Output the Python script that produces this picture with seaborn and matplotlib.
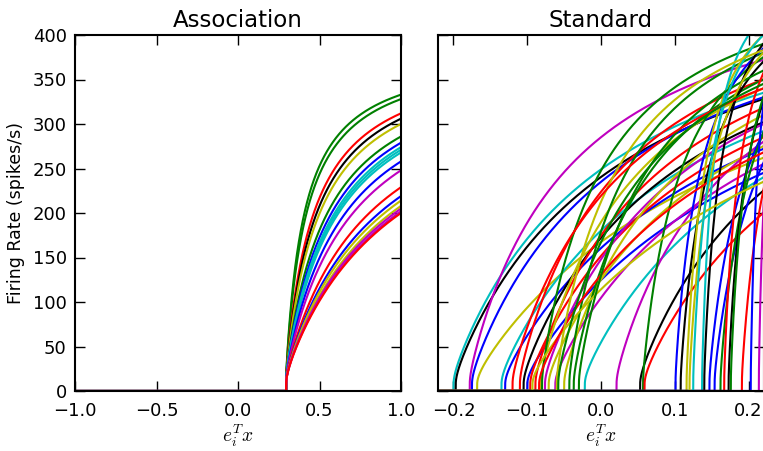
import numpy as np
import pandas as pd
import matplotlib
matplotlib.use("Agg")
import matplotlib.pyplot as plt
import seaborn as sns

# ---------------- data ----------------
# LIF neuron time constants (refractory period differs per panel)
tau_rc = 0.02
assoc_tau_ref = 0.0026
std_tau_ref = 0.002

# Association panel: all neurons share intercept ~0.3; rate reached at x = 1.0
assoc_intercept = 0.295
assoc_rates_at_1 = [333, 328, 312, 306, 300, 286, 279, 274, 271, 268,
                    258, 248, 229, 219, 214, 208, 205, 202, 200]
assoc_colors = ['g', 'g', 'r', 'k', 'y', 'g', 'b', 'c', 'c', 'c',
                'b', 'm', 'r', 'b', 'y', 'y', 'm', 'm', 'r']

# Standard panel: intercepts and rate reached at the right edge (x = 0.22)
std_intercepts = [-0.200, -0.197, -0.178, -0.175, -0.168, -0.135, -0.130,
                  -0.110, -0.105, -0.100, -0.096, -0.089, -0.082, -0.080,
                  -0.076, -0.071, -0.062, -0.050, -0.043, -0.037, -0.022,
                  0.021, 0.053, 0.057, 0.059, 0.101, 0.108, 0.116, 0.137,
                  0.140, 0.147, 0.154, 0.162, 0.167, 0.173, 0.176, 0.191,
                  0.203, 0.214, -0.093, -0.084, -0.030, 0.120, 0.125, -0.060,
                  -0.120, -0.058]
std_rates_at_edge = [335, 328, 372, 330, 262, 292, 272,
                     350, 302, 245, 285, 318, 340, 390,
                     300, 275, 255, 310, 380, 350, 240,
                     280, 225, 375, 200, 385, 370, 400, 420,
                     390, 290, 256, 290, 357, 325, 330, 225,
                     320, 200, 235, 268, 360, 380, 400, 383,
                     340, 345]
std_colors = ['c', 'k', 'm', 'b', 'y', 'c', 'b',
              'r', 'k', 'b', 'r', 'r', 'y', 'g',
              'm', 'y', 'm', 'y', 'g', 'g', 'c',
              'm', 'k', 'g', 'r', 'b', 'k', 'y', 'c',
              'k', 'b', 'b', 'g', 'r', 'k', 'g', 'r',
              'b', 'm', 'y', 'r', 'g', 'y', 'c', 'y',
              'r', 'g']

yticks = [0, 50, 100, 150, 200, 250, 300, 350, 400]
assoc_xticks = [-1.0, -0.5, 0.0, 0.5, 1.0]
std_xticks = [-0.2, -0.1, 0.0, 0.1, 0.2]

classic = {'b': (0, 0, 1), 'g': (0, 0.5, 0), 'r': (1, 0, 0),
           'c': (0, 0.75, 0.75), 'm': (0.75, 0, 0.75),
           'y': (0.75, 0.75, 0), 'k': (0, 0, 0)}


def lif_curve(x, intercept, rate, x_ref, tau_ref):
    j1_ref = 1.0 / np.expm1((1.0 / rate - tau_ref) / tau_rc)
    gain = j1_ref / (x_ref - intercept)
    j1 = gain * (x - intercept)
    out = np.zeros_like(x)
    m = j1 > 0
    out[m] = 1.0 / (tau_ref + tau_rc * np.log1p(1.0 / j1[m]))
    return out


def build(intercepts, rates, x_ref, xs, tau_ref):
    frames = []
    for i, (c, r) in enumerate(zip(intercepts, rates)):
        xx = np.sort(np.concatenate([xs, [c], c + np.geomspace(1e-6, 0.02, 200)]))
        xx = xx[(xx >= xs.min()) & (xx <= xs.max())]
        frames.append(pd.DataFrame({'x': xx,
                                    'rate': lif_curve(xx, c, r, x_ref, tau_ref),
                                    'neuron': i}))
    return pd.concat(frames, ignore_index=True)


df_assoc = build([assoc_intercept] * len(assoc_rates_at_1), assoc_rates_at_1, 1.0,
                 np.linspace(-1, 1, 4001), assoc_tau_ref)
df_std = build(std_intercepts, std_rates_at_edge, 0.22,
               np.linspace(-0.3, 0.3, 3001), std_tau_ref)

sns.set_style("white")
plt.rcParams['font.family'] = ['DejaVu Sans']
plt.rcParams['mathtext.fontset'] = 'cm'
plt.rcParams['text.color'] = 'k'
plt.rcParams['axes.labelcolor'] = 'k'
plt.rcParams['xtick.color'] = 'k'
plt.rcParams['ytick.color'] = 'k'

W, H = 763, 451
fig = plt.figure(figsize=(W / 100, H / 100), dpi=100)
ax1 = fig.add_axes([75 / W, 1 - 391 / H, 326 / W, 356 / H])
ax2 = fig.add_axes([438 / W, 1 - 391 / H, 326 / W, 356 / H])

sns.lineplot(data=df_assoc, x='x', y='rate', hue='neuron',
             palette=[classic[c] for c in assoc_colors], legend=False,
             estimator=None, sort=False, lw=1.5, ax=ax1)
sns.lineplot(data=df_std, x='x', y='rate', hue='neuron',
             palette=[classic[c] for c in std_colors], legend=False,
             estimator=None, sort=False, lw=1.5, ax=ax2)

for ax, xt, xl in [(ax1, assoc_xticks, (-1, 1)), (ax2, std_xticks, (-0.221, 0.221))]:
    ax.set_xlim(*xl)
    ax.set_ylim(0, 400)
    ax.set_xticks(xt)
    ax.set_yticks(yticks)
    ax.tick_params(direction='in', top=True, right=True, left=True, bottom=True,
                   length=7, width=1, labelsize=13, colors='k', pad=6)
    ax.tick_params(axis='x', pad=8)
    for s in ax.spines.values():
        s.set_color('k')
        s.set_linewidth(1.5)
        s.set_zorder(5)
    ax.set_xlabel(r'$e_i^T x$', fontsize=14, labelpad=2, color='k')
    ax.grid(False)

ax1.set_xticklabels(['\u22121.0', '\u22120.5', '0.0', '0.5', '1.0'])
ax2.set_xticklabels(['\u22120.2', '\u22120.1', '0.0', '0.1', '0.2'])
ax1.set_ylabel('Firing Rate (spikes/s)', fontsize=12.5, labelpad=5, color='k')
ax2.set_ylabel('')
ax2.set_yticklabels([])
ax1.set_title('Association', fontsize=16.5, pad=6, color='k')
ax2.set_title('Standard', fontsize=16.5, pad=6, color='k')

fig.savefig('out.png', dpi=100)
